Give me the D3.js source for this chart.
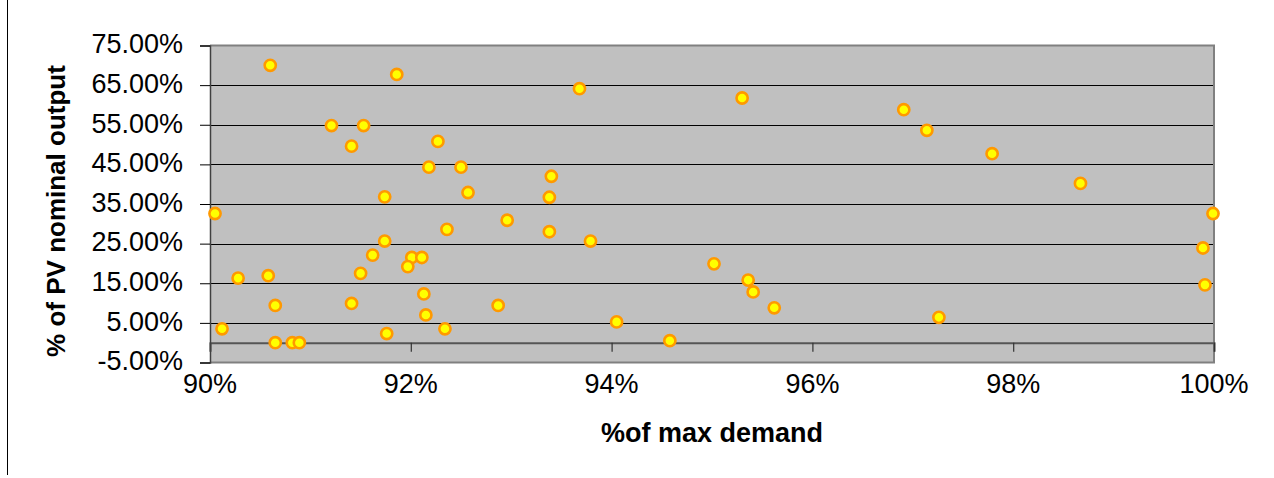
<!DOCTYPE html>
<html>
<head>
<meta charset="utf-8">
<script src="https://cdn.jsdelivr.net/npm/d3@7"></script>
<style>
  html, body { margin: 0; padding: 0; background: #fff; }
  svg { display: block; font-family: "Liberation Sans", Arial, sans-serif; }
</style>
</head>
<body>
<svg id="chart" width="1274" height="478"></svg>
<script>
// ---- data ----
const demandPct = [
  90.60, 91.86, 91.21, 91.53, 91.41, 92.27, 92.18, 92.50, 91.74, 92.57,
  90.05, 92.96, 92.36, 91.74, 91.62, 92.01, 92.11, 91.97, 91.50, 90.28,
  90.58, 92.13, 91.41, 90.65, 92.87, 92.15, 90.12, 92.34, 91.76, 90.65,
  90.82, 90.89, 93.68, 95.30, 93.40, 93.38, 93.38, 93.79, 95.02, 95.36,
  95.41, 95.62, 94.05, 94.58, 96.91, 97.14, 97.79, 98.67, 99.99, 99.89,
  99.91, 97.26
];
const pvOutputPct = [
  70.0, 67.7, 54.8, 54.8, 49.6, 50.8, 44.3, 44.3, 36.8, 37.9,
  32.6, 30.9, 28.6, 25.65, 22.1, 21.5, 21.5, 19.2, 17.5, 16.3,
  16.9, 12.3, 9.9, 9.4, 9.4, 7.0, 3.5, 3.5, 2.3, 0.0,
  0.0, 0.0, 64.1, 61.75, 42.0, 36.7, 28.0, 25.65, 19.9, 15.8,
  12.8, 8.8, 5.25, 0.5, 58.8, 53.6, 47.7, 40.2, 32.6, 23.9,
  14.6, 6.4
];
const xTicks = [90, 92, 94, 96, 98, 100];
const yTicks = [75, 65, 55, 45, 35, 25, 15, 5, -5];
const xTitle = "%of max demand";
const yTitle = "% of PV nominal output";

// ---- layout ----
const svg = d3.select("#chart");
const pLeft = 210, pRight = 1214, pTop = 45.5, pBottom = 362.5;

const x = d3.scaleLinear().domain([90, 100]).range([pLeft, pRight]);
const y = d3.scaleLinear().domain([-5, 75]).range([pBottom, pTop]);

// outer left border line
svg.append("line")
  .attr("x1", 7.5).attr("x2", 7.5).attr("y1", 0).attr("y2", 475)
  .attr("stroke", "#000").attr("stroke-width", 1);

// plot background
svg.append("rect")
  .attr("x", pLeft).attr("y", pTop)
  .attr("width", pRight - pLeft).attr("height", pBottom - pTop)
  .attr("fill", "#C0C0C0");

// gridlines
svg.append("g")
  .selectAll("line")
  .data(yTicks.filter(t => t !== 75 && t !== -5))
  .join("line")
  .attr("x1", pLeft).attr("x2", pRight)
  .attr("y1", d => Math.round(y(d)) + 0.5).attr("y2", d => Math.round(y(d)) + 0.5)
  .attr("stroke", "#000").attr("stroke-width", 1);

// plot border (top/right/bottom)
svg.append("path")
  .attr("d", `M${pLeft},${pTop} H${pRight} V${pBottom} H${pLeft}`)
  .attr("fill", "none").attr("stroke", "#808080").attr("stroke-width", 2);

// x axis at y = 0
const xAxisG = svg.append("g")
  .attr("transform", `translate(0,${y(0)})`)
  .call(d3.axisBottom(x).tickValues(xTicks).tickSize(9).tickFormat(""));
xAxisG.select(".domain").attr("stroke", "#555").attr("stroke-width", 2);
xAxisG.selectAll(".tick line").attr("stroke", "#333").attr("stroke-width", 1.2);

// x tick labels at the bottom
svg.append("g")
  .selectAll("text")
  .data(xTicks)
  .join("text")
  .attr("x", d => x(d))
  .attr("y", 393)
  .attr("text-anchor", "middle")
  .attr("font-size", 27)
  .attr("fill", "#000")
  .text(d => d + "%");

// y axis
const yAxisG = svg.append("g")
  .attr("transform", `translate(${pLeft},0)`)
  .call(d3.axisLeft(y).tickValues(yTicks).tickSize(10).tickPadding(17)
    .tickFormat(d => d.toFixed(2) + "%"));
yAxisG.select(".domain").attr("stroke", "#404040").attr("stroke-width", 1.5);
yAxisG.selectAll(".tick line").attr("stroke", "#000").attr("stroke-width", 1);
yAxisG.selectAll(".tick text")
  .attr("font-size", 27)
  .attr("font-family", "'Liberation Sans', Arial, sans-serif")
  .attr("fill", "#000")
  .attr("dy", "0.27em");

// points
svg.append("g")
  .selectAll("circle")
  .data(demandPct.map((d, i) => [d, pvOutputPct[i]]))
  .join("circle")
  .attr("cx", d => x(d[0]))
  .attr("cy", d => y(d[1]))
  .attr("r", 5.6)
  .attr("fill", "#FFFF00")
  .attr("stroke", "#FF9900")
  .attr("stroke-width", 2.6);

// axis titles
svg.append("text")
  .attr("x", (pLeft + pRight) / 2)
  .attr("y", 442)
  .attr("text-anchor", "middle")
  .attr("font-size", 27)
  .attr("font-weight", "bold")
  .text(xTitle);

svg.append("text")
  .attr("transform", `translate(65,211) rotate(-90)`)
  .attr("text-anchor", "middle")
  .attr("font-size", 26)
  .attr("font-weight", "bold")
  .text(yTitle);
</script>
</body>
</html>
